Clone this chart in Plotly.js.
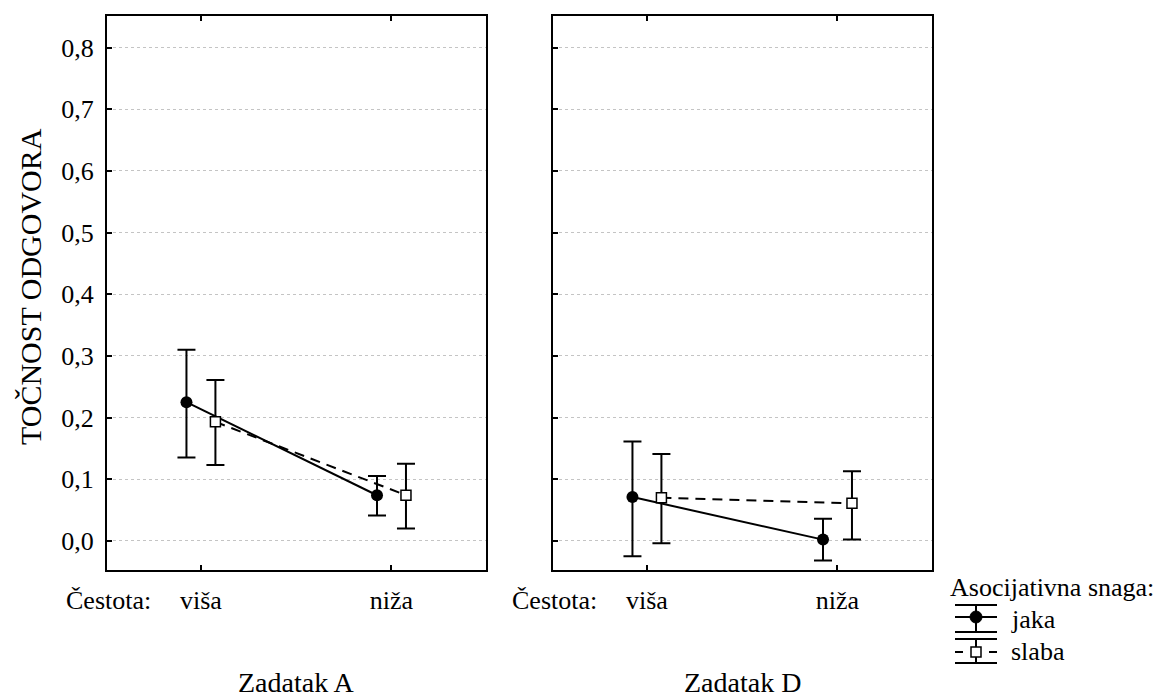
<!DOCTYPE html>
<html>
<head>
<meta charset="utf-8">
<script src="https://cdn.plot.ly/plotly-3.0.1.min.js"></script>
<style>html,body{margin:0;padding:0;background:#fff;}#chart{width:1166px;height:700px;}</style>
</head>
<body>
<div id="chart"></div>
<script>
// ---- data ----
var categories = ['viša', 'niža'];
var panels = ['Zadatak A', 'Zadatak D'];
var seriesNames = ['jaka', 'slaba'];
var xLabel = 'Čestota:';
var yTitle = 'TOČNOST ODGOVORA';
var legendTitle = 'Asocijativna snaga:';
var yTicks = [0.0, 0.1, 0.2, 0.3, 0.4, 0.5, 0.6, 0.7, 0.8];

// Zadatak A
var A_jaka = [0.225, 0.074];
var A_jaka_hi = [0.310, 0.105];
var A_jaka_lo = [0.135, 0.041];
var A_slaba = [0.193, 0.074];
var A_slaba_hi = [0.261, 0.125];
var A_slaba_lo = [0.123, 0.020];
// Zadatak D
var D_jaka = [0.071, 0.002];
var D_jaka_hi = [0.161, 0.036];
var D_jaka_lo = [-0.025, -0.032];
var D_slaba = [0.070, 0.061];
var D_slaba_hi = [0.141, 0.113];
var D_slaba_lo = [-0.004, 0.002];

// ---- layout constants ----
var FONT = '"Liberation Serif", "Times New Roman", serif';
var OFFSET = 0.076;
var W = 1166, H = 700;
var M = {l: 107, r: 234, t: 16, b: 130};
var PW = W - M.l - M.r, PH = H - M.t - M.b;
function px(x) { return (x - M.l) / PW; }
function py(y) { return (H - M.b - y) / PH; }

var idx = categories.map(function (c, i) { return i; });
function shift(d) { return idx.map(function (i) { return i + d; }); }
function diff(a, b) { return a.map(function (v, i) { return Math.abs(v - b[i]); }); }

function makeTrace(vals, hi, lo, name, xa, ya, isJaka) {
  return {
    type: 'scatter', mode: 'lines+markers', name: name,
    x: shift(isJaka ? -OFFSET : OFFSET), y: vals, xaxis: xa, yaxis: ya,
    showlegend: false,
    line: {color: 'black', width: 2, dash: isJaka ? 'solid' : '10px,7px'},
    marker: isJaka ? {symbol: 'circle', size: 12, color: 'black'}
                   : {symbol: 'square', size: 10, color: 'white', line: {color: 'black', width: 1.5}},
    error_y: {type: 'data', symmetric: false, array: diff(hi, vals), arrayminus: diff(vals, lo),
              color: 'black', thickness: 2, width: 9}
  };
}

var data = [
  makeTrace(A_jaka, A_jaka_hi, A_jaka_lo, seriesNames[0], 'x', 'y', true),
  makeTrace(A_slaba, A_slaba_hi, A_slaba_lo, seriesNames[1], 'x', 'y', false),
  makeTrace(D_jaka, D_jaka_hi, D_jaka_lo, seriesNames[0], 'x2', 'y2', true),
  makeTrace(D_slaba, D_slaba_hi, D_slaba_lo, seriesNames[1], 'x2', 'y2', false)
];

var YR = [-0.0473, 0.8514];
var XR = [-0.493, 1.496];
function tf(size) { return {family: FONT, size: size, color: 'black'}; }

function xAxis(domain, anchor) {
  return {domain: domain, anchor: anchor, range: XR, tickvals: idx, ticktext: categories,
    ticks: 'inside', ticklen: 5, tickwidth: 2, tickcolor: 'black', mirror: 'ticks',
    showline: true, linecolor: 'black', linewidth: 2, showgrid: false, zeroline: false,
    tickfont: tf(26), ticklabelstandoff: 6, fixedrange: true};
}
function yAxis(anchor, labels) {
  return {anchor: anchor, range: YR, tickvals: yTicks, tickformat: '.1f',
    ticks: 'inside', ticklen: 5, tickwidth: 2, tickcolor: 'black', mirror: true,
    showline: true, linecolor: 'black', linewidth: 2, showgrid: true,
    gridcolor: '#c4c4c4', griddash: 'dot', gridwidth: 1, zeroline: false,
    showticklabels: labels, tickfont: tf(26), ticklabelstandoff: 6};
}
var rightTicks = [0.135, 0.313, 0.491, 0.670];
function yRight(over, anchor) {
  return {overlaying: over, anchor: anchor, side: 'right', range: YR, tickvals: rightTicks,
    ticks: 'inside', ticklen: 5, tickwidth: 2, tickcolor: 'black', showline: false,
    showgrid: false, zeroline: false, showticklabels: false};
}

var txt = function (s, x, y, xanchor, size, extra) {
  var a = {text: s, xref: 'paper', yref: 'paper', x: x, y: y, xanchor: xanchor, yanchor: 'middle',
    showarrow: false, font: tf(size)};
  for (var k in extra) a[k] = extra[k];
  return a;
};

var annotations = [
  txt(xLabel, px(153), py(600), 'right', 26),
  txt(xLabel, px(599), py(600), 'right', 26),
  txt(panels[0], px(296.5), py(682), 'center', 28),
  txt(panels[1], px(742.5), py(682), 'center', 28),
  txt(yTitle, px(30), py(287), 'center', 30, {textangle: -90}),
  txt(legendTitle, px(948), py(587), 'left', 26),
  txt(seriesNames[0], px(1009), py(619), 'left', 26),
  txt(seriesNames[1], px(1009), py(651), 'left', 26)
];

function seg(x0, y0, x1, y1, dash) {
  return {type: 'line', xref: 'paper', yref: 'paper', x0: px(x0), y0: py(y0), x1: px(x1), y1: py(y1),
    line: {color: 'black', width: 2, dash: dash || 'solid'}};
}
var shapes = [
  // jaka legend glyph
  seg(955, 605, 997, 605), seg(955, 617, 997, 617), seg(955, 632, 997, 632), seg(976, 605, 976, 632),
  {type: 'circle', xref: 'paper', yref: 'paper', x0: px(970), x1: px(982), y0: py(611), y1: py(623),
   fillcolor: 'black', line: {color: 'black', width: 1}},
  // slaba legend glyph
  seg(955, 639, 997, 639), seg(955, 663, 997, 663), seg(976, 639, 976, 663),
  seg(955, 652, 963, 652), seg(989, 652, 997, 652),
  {type: 'rect', xref: 'paper', yref: 'paper', x0: px(971), x1: px(981), y0: py(647), y1: py(657),
   fillcolor: 'white', line: {color: 'black', width: 1.5}}
];

var layout = {
  width: W, height: H, margin: M, paper_bgcolor: 'white', plot_bgcolor: 'white',
  separators: ', ', showlegend: false, font: {family: FONT, color: 'black'},
  xaxis: xAxis([0, px(486)], 'y'),
  xaxis2: xAxis([px(553), 1], 'y2'),
  yaxis: yAxis('x', true),
  yaxis2: yAxis('x2', false),
  yaxis3: yRight('y', 'x'),
  yaxis4: yRight('y2', 'x2'),
  annotations: annotations, shapes: shapes
};

Plotly.newPlot('chart', data, layout, {displayModeBar: false, staticPlot: true});
</script>
</body>
</html>
